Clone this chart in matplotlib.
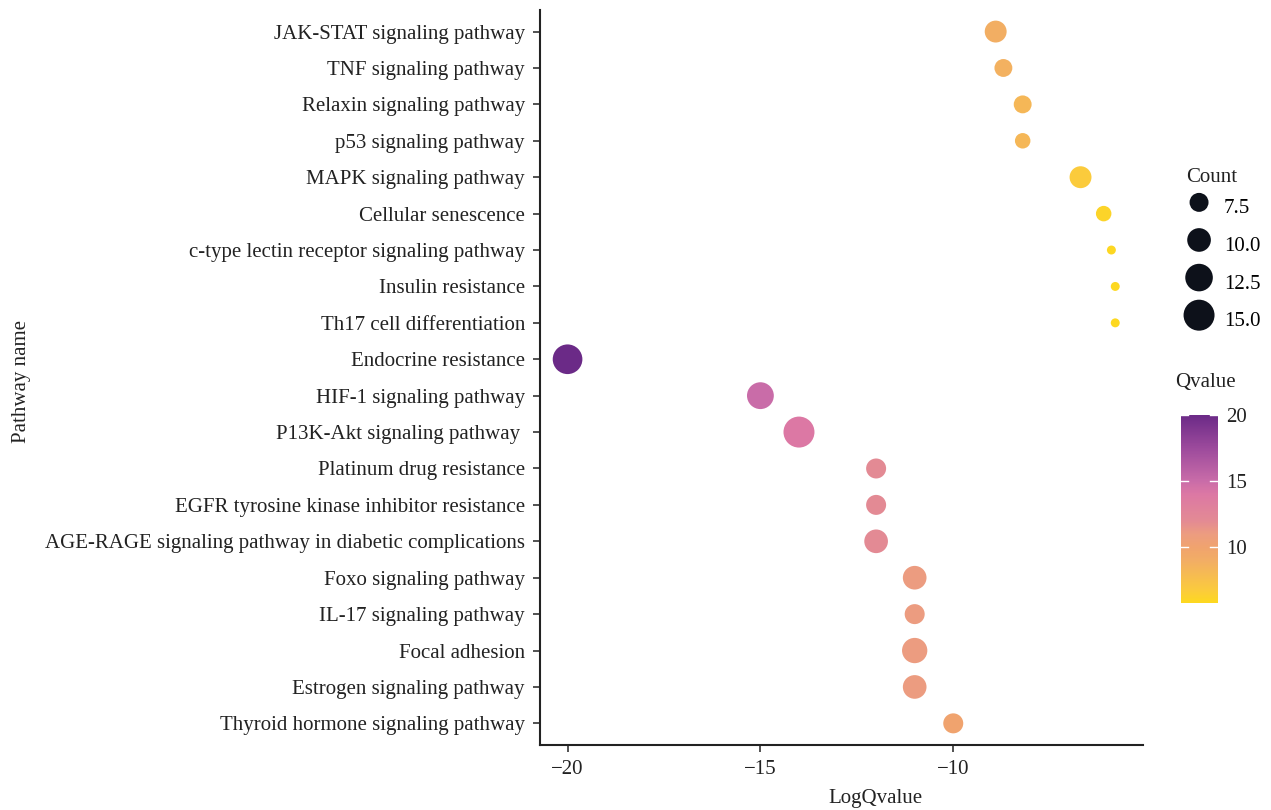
import numpy as np
import matplotlib
matplotlib.use('Agg')
import matplotlib.pyplot as plt
from matplotlib.colors import LinearSegmentedColormap, Normalize

plt.rcParams['font.family'] = ['Liberation Serif', 'DejaVu Serif']

pathways = ['JAK-STAT signaling pathway', 'TNF signaling pathway', 'Relaxin signaling pathway',
            'p53 signaling pathway', 'MAPK signaling pathway', 'Cellular senescence',
            'c-type lectin receptor signaling pathway', 'Insulin resistance',
            'Th17 cell differentiation', 'Endocrine resistance', 'HIF-1 signaling pathway',
            'P13K-Akt signaling pathway ', 'Platinum drug resistance',
            'EGFR tyrosine kinase inhibitor resistance',
            'AGE-RAGE signaling pathway in diabetic complications', 'Foxo signaling pathway',
            'IL-17 signaling pathway', 'Focal adhesion', 'Estrogen signaling pathway',
            'Thyroid hormone signaling pathway']
log_q = [-8.9, -8.7, -8.2, -8.2, -6.7, -6.1, -5.9, -5.8, -5.8, -20.0, -15.0,
         -14.0, -12.0, -12.0, -12.0, -11.0, -11.0, -11.0, -11.0, -10.0]
counts = [9, 7, 7, 6, 9, 6, 4, 4, 4, 14, 12, 15, 8, 8, 10, 10, 8, 11, 10, 8]
count_breaks = [7.5, 10.0, 12.5, 15.0]

qvalue = [-v for v in log_q]
q_min, q_max = min(qvalue), max(qvalue)

# yellow -> orange -> pink -> purple, anchored at qvalue levels
q_stops = [q_min, 6.7, 8.9, 10, 11, 12, 14, 15, 17.5, 20]
q_colors = ['#FDD820', '#FBCB3C', '#F2AE64', '#F0A36E', '#EC9C80', '#E38A94',
            '#DC78A4', '#C96CA8', '#9C4A9C', '#6B2A87']
cmap = LinearSegmentedColormap.from_list(
    'qv', [((q - q_min) / (q_max - q_min), c) for q, c in zip(q_stops, q_colors)])
norm = Normalize(vmin=q_min, vmax=q_max)


def dot_area(c):
    # marker area in pt^2, linear in count
    d2_px = -240 + 80 * np.asarray(c, dtype=float)
    return d2_px * 0.72 ** 2


fig = plt.figure(figsize=(12.71, 8.10), dpi=100)
ax = fig.add_axes([0.425, 0.080, 0.474, 0.908])

ypos = np.arange(len(pathways))
ax.scatter(log_q, ypos, s=dot_area(counts), c=qvalue, cmap=cmap, norm=norm,
           edgecolors='none', zorder=3)

ax.set_ylim(len(pathways) - 0.4, -0.6)
ax.set_xlim(-20.71, -5.09)
ax.set_yticks(ypos)
ax.set_yticklabels(pathways, fontsize=15, color='#222222')
ax.set_xticks([-20, -15, -10])
ax.set_xticklabels(['\u221220', '\u221215', '\u221210'], fontsize=15, color='#222222')
for side in ['top', 'right']:
    ax.spines[side].set_visible(False)
for side in ['left', 'bottom']:
    ax.spines[side].set_linewidth(1.5)
    ax.spines[side].set_color('#222222')
ax.tick_params(axis='both', length=5, width=1.2, color='#333333', pad=6)
ax.set_xlabel('LogQvalue', fontsize=15, color='#222222')
ax.xaxis.set_label_coords(0.557, -0.06)
ax.set_ylabel('Pathway name', fontsize=15, color='#222222')
ax.yaxis.set_label_coords(-0.845, 0.495)

# size legend
handles = [ax.scatter([], [], s=dot_area(b), color='#0D111A', edgecolors='none')
           for b in count_breaks]
fig.legend(handles, [f'{b:.1f}' for b in count_breaks],
           loc='upper left', bbox_to_anchor=(0.927, 0.763), frameon=False,
           fontsize=15, labelspacing=0.39, handleheight=1.8, handletextpad=0.2,
           borderpad=0.0, borderaxespad=0.0, scatterpoints=1)
fig.text(1186 / 1271, 1 - 178 / 810, 'Count', fontsize=15, color='#222222',
         ha='left', va='center')

# colour legend
cax = fig.add_axes([0.929, 0.256, 0.029, 0.232])
sm = plt.cm.ScalarMappable(norm=norm, cmap=cmap)
cb = fig.colorbar(sm, cax=cax, ticks=[10, 15, 20])
cb.outline.set_visible(False)
cb.ax.tick_params(length=0, labelsize=15, labelcolor='#222222', pad=6)
for t in [10, 15, 20]:
    cax.plot([0, 0.2], [t, t], color='white', lw=1, transform=cax.get_yaxis_transform())
    cax.plot([0.8, 1.0], [t, t], color='white', lw=1, transform=cax.get_yaxis_transform())
fig.text(1175 / 1271, 1 - 383 / 810, 'Qvalue', fontsize=15, color='#222222',
         ha='left', va='center')

fig.savefig('out.png', dpi=100)
